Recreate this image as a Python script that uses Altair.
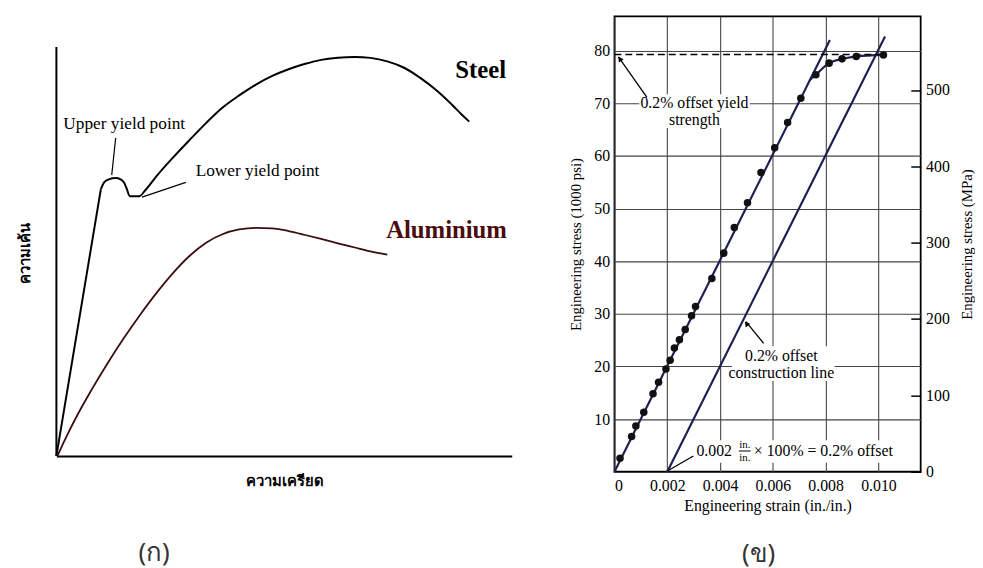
import altair as alt
import pandas as pd

# ---------------- Panel (ก): schematic curves, arbitrary units ----------------
steel_elastic_strain = [0, 9.76]
steel_elastic_stress = [0, 65.22]
steel_strain = [9.76, 10.48, 11.50, 13.02, 14.10, 14.82, 15.40, 16.12, 18.22,
                19.52, 22.13, 25.60, 29.28, 32.97, 36.44, 40.13, 43.82, 47.29, 50.98,
                54.66, 58.13, 61.82, 65.51, 68.98, 72.67, 76.36, 79.83, 83.51, 86.77,
                88.94, 90.67]
steel_stress = [65.22, 66.91, 67.63, 67.95, 67.63, 66.91, 65.46, 63.53, 63.53,
                64.98, 68.60, 72.95, 77.29, 81.52, 85.14, 88.16, 90.82, 92.87, 94.57,
                95.89, 96.86, 97.39, 97.58, 97.34, 96.50, 94.93, 92.51, 89.37, 86.01,
                83.57, 81.76]
alu_strain = [0.22, 1.52, 2.82, 4.12, 7.59, 11.28, 14.75, 18.44, 22.13, 25.60,
              29.28, 32.97, 36.44, 40.13, 43.82, 47.29, 50.98, 54.66, 58.13, 61.82,
              65.51, 68.98, 72.67]
alu_stress = [0, 3.12, 6.11, 8.97, 15.91, 22.74, 28.71, 34.61, 40.07, 44.72,
              48.95, 52.20, 54.21, 55.39, 55.76, 55.63, 55.00, 54.03, 53.07, 52.00,
              50.97, 50.00, 49.20]
left_labels = ["Upper yield point", "Lower yield point"]
left_label_x = [1.52, 30.59]
left_label_y = [81.23, 69.73]
left_lead_x = [13.02, 28.42]
left_lead_y = [77.78, 66.91]
left_lead_x2 = [12.15, 18.81]
left_lead_y2 = [68.67, 63.29]
material_names = ["Steel", "Aluminium"]
material_x = [93.17, 85.68]
material_y = [94.28, 55.31]
material_colors = ["#000000", "#4a0d0d"]

# ---------------- Panel (ข): measured tensile test -----------------
strain_pts = [0.00021, 0.00065, 0.00081, 0.00111, 0.00146, 0.00167, 0.00195, 0.00211,
              0.00227, 0.00246, 0.00268, 0.00292, 0.00307, 0.00369, 0.00414, 0.00454,
              0.00504, 0.00555, 0.00607, 0.00656, 0.00706, 0.00763, 0.00813, 0.00862,
              0.00916, 0.01019]
stress_pts = [2.56, 6.69, 8.69, 11.32, 14.82, 17.01, 19.51, 21.20, 23.52, 25.08,
              27.02, 29.65, 31.40, 36.72, 41.53, 46.41, 51.10, 56.85, 61.55, 66.36,
              70.93, 75.43, 77.62, 78.43, 78.87, 79.18]
elastic_strain = [0.0, 0.00816]
elastic_stress = [0.0, 82.0]
offset_strain = [0.002, 0.01025]
offset_stress = [0.0, 82.7]
plastic_strain = [0.0074, 0.00763, 0.00813, 0.00862, 0.00916, 0.01019]
plastic_stress = [74.4, 75.43, 77.62, 78.43, 78.87, 79.18]
yield_strain = [0.0, 0.01018]
yield_stress = 79.28
x_ticks = [0, 0.002, 0.004, 0.006, 0.008, 0.010]
ksi_ticks = [10, 20, 30, 40, 50, 60, 70, 80]
mpa_ticks = [0, 100, 200, 300, 400, 500]
box_x = [0.00094, 0.00445, 0.00307]
box_x2 = [0.00513, 0.00834, 0.01096]
box_y = [65.3, 17.26, 1.69]
box_y2 = [71.7, 23.83, 6.0]
ann_center_text = ["0.2% offset yield", "strength", "0.2% offset", "construction line"]
ann_center_x = [0.00303, 0.00303, 0.00632, 0.00632]
ann_center_y = [70.0, 66.8, 21.95, 18.76]
lead_x = [0.00015, 0.00498, 0.00299]
lead_y = [78.8, 28.52, 3.0]
lead_x2 = [0.00123, 0.00565, 0.00202]
lead_y2 = [71.1, 24.39, 0.19]
arrow_x = [0.00022, 0.00502]
arrow_y = [78.3, 28.0]
arrow_angle = [325, 321]

SERIF = "Liberation Serif"
THAI = "Noto Sans"
GRID = "#444444"
LINE = "#1d2050"

# ---------------- left panel ----------------
lx_scale = alt.Scale(domain=[0, 100], nice=False, zero=False)
ly_scale = alt.Scale(domain=[0, 107.49], nice=False, zero=False)
lx_axis = alt.Axis(domain=True, domainColor="black", domainWidth=2, ticks=False,
                   labels=False, grid=False, title="ความเครียด", titleFont=THAI,
                   titleFontSize=15, titleFontWeight="bold", titleColor="black",
                   titlePadding=18)
ly_axis = alt.Axis(domain=False, ticks=False, labels=False, grid=False,
                   title="ความเค้น", titleFont=THAI, titleFontSize=15,
                   titleFontWeight="bold", titleColor="black", titlePadding=24,
                   titleY=240)


def LX(f):
    return alt.X(f, type="quantitative", scale=lx_scale, axis=lx_axis)


def LY(f):
    return alt.Y(f, type="quantitative", scale=ly_scale, axis=ly_axis)


steel_el_df = pd.DataFrame({"e": steel_elastic_strain, "s": steel_elastic_stress})
steel_df = pd.DataFrame({"e": steel_strain, "s": steel_stress, "i": range(len(steel_strain))})
alu_df = pd.DataFrame({"e": alu_strain, "s": alu_stress, "i": range(len(alu_strain))})
yaxis_df = pd.DataFrame({"e": [0.0], "s": [0.0], "s2": [100.0]})
lead_l_df = pd.DataFrame({"x": left_lead_x, "y": left_lead_y, "x2": left_lead_x2, "y2": left_lead_y2})
lab_l_df = pd.DataFrame({"t": left_labels, "x": left_label_x, "y": left_label_y})
mat_df = pd.DataFrame({"t": material_names, "x": material_x, "y": material_y, "c": material_colors})

steel_el = alt.Chart(steel_el_df).mark_line(color="black", strokeWidth=2).encode(
    x=LX("e"), y=LY("s"))
steel = alt.Chart(steel_df).mark_line(color="black", strokeWidth=2, interpolate="monotone").encode(
    x=LX("e"), y=LY("s"), order="i:Q")
alu = alt.Chart(alu_df).mark_line(color="#3a0c0c", strokeWidth=1.8, interpolate="monotone").encode(
    x=LX("e"), y=LY("s"), order="i:Q")
yline = alt.Chart(yaxis_df).mark_rule(color="black", strokeWidth=2).encode(
    x=LX("e"), y=LY("s"), y2="s2")
lleads = alt.Chart(lead_l_df).mark_rule(color="black", strokeWidth=1.2).encode(
    x=LX("x"), y=LY("y"), x2="x2", y2="y2")
llabels = alt.Chart(lab_l_df).mark_text(align="left", baseline="middle", font=SERIF,
                                        fontSize=17.5, color="black").encode(
    x=LX("x"), y=LY("y"), text="t")
mats = alt.Chart(mat_df).mark_text(align="center", baseline="middle", font=SERIF,
                                   fontSize=25, fontWeight="bold").encode(
    x=LX("x"), y=LY("y"), text="t", color=alt.Color("c:N", scale=None))

left = alt.layer(yline, alu, steel_el, steel, lleads, llabels, mats).properties(
    width=461, height=445,
    title=alt.TitleParams("(ก)", orient="bottom", anchor="start", dx=122, offset=52,
                          font=THAI, fontSize=26, fontWeight="normal", color="#333333"))

# ---------------- right panel ----------------
rx_scale = alt.Scale(domain=[0, 0.0116], nice=False, zero=False)
ry_scale = alt.Scale(domain=[0, 86.5], nice=False, zero=False)
rx_axis = alt.Axis(values=x_ticks, labelExpr="datum.value == 0 ? '0' : format(datum.value, '.3f')",
                   grid=True, gridColor=GRID, gridWidth=1.1, ticks=False, domain=False,
                   labelFont=SERIF, labelFontSize=16, labelColor="black", labelPadding=6,
                   title="Engineering strain (in./in.)", titleFont=SERIF, titleFontSize=16,
                   titleFontWeight="normal", titleColor="black", titlePadding=4)
ry_axis = alt.Axis(values=ksi_ticks, grid=True, gridColor=GRID, gridWidth=1.1, ticks=False,
                   domain=False, labelFont=SERIF, labelFontSize=16, labelColor="black",
                   labelPadding=5, title="Engineering stress (1000 psi)", titleFont=SERIF,
                   titleFontSize=15, titleFontWeight="normal", titleColor="black",
                   titlePadding=10)


def RX(f):
    return alt.X(f, type="quantitative", scale=rx_scale, axis=rx_axis)


def RY(f):
    return alt.Y(f, type="quantitative", scale=ry_scale, axis=ry_axis)


box_df = pd.DataFrame({"x": box_x, "x2": box_x2, "y": box_y, "y2": box_y2})
pts_df = pd.DataFrame({"e": strain_pts, "s": stress_pts})
el_df = pd.DataFrame({"e": elastic_strain, "s": elastic_stress})
off_df = pd.DataFrame({"e": offset_strain, "s": offset_stress})
pl_df = pd.DataFrame({"e": plastic_strain, "s": plastic_stress})
ys_df = pd.DataFrame({"e": yield_strain, "s": [yield_stress] * 2})
lead_df = pd.DataFrame({"x": lead_x, "y": lead_y, "x2": lead_x2, "y2": lead_y2})
arrow_df = pd.DataFrame({"x": arrow_x, "y": arrow_y, "a": arrow_angle})
annc_df = pd.DataFrame({"t": ann_center_text, "x": ann_center_x, "y": ann_center_y})
ann_r_df = pd.DataFrame({"t": ["0.002"], "x": [0.00445], "y": [3.94]})
ann_l_df = pd.DataFrame({"t": ["× 100% = 0.2% offset"], "x": [0.00528], "y": [3.94]})
frac_df = pd.DataFrame({"t": ["in.", "in."], "x": [0.00494, 0.00494], "y": [5.07, 2.63]})
bar_df = pd.DataFrame({"x": [0.00471], "x2": [0.00516], "y": [3.94]})

boxes = alt.Chart(box_df).mark_rect(fill="white").encode(x=RX("x"), x2="x2", y=RY("y"), y2="y2")
elastic = alt.Chart(el_df).mark_line(color=LINE, strokeWidth=2.2).encode(x=RX("e"), y=RY("s"))
offset = alt.Chart(off_df).mark_line(color=LINE, strokeWidth=2.2).encode(x=RX("e"), y=RY("s"))
plastic = alt.Chart(pl_df).mark_line(color=LINE, strokeWidth=2.2, interpolate="monotone").encode(
    x=RX("e"), y=RY("s"))
yieldline = alt.Chart(ys_df).mark_line(color="black", strokeWidth=1.5, strokeDash=[7, 4]).encode(
    x=RX("e"), y=RY("s"))
dots = alt.Chart(pts_df).mark_circle(color="#111111", size=58, opacity=1).encode(
    x=RX("e"), y=RY("s"))
leads = alt.Chart(lead_df).mark_rule(color="black", strokeWidth=1.3).encode(
    x=RX("x"), y=RY("y"), x2="x2", y2="y2")
arrows = alt.Chart(arrow_df).mark_point(shape="triangle", filled=True, size=35, color="black",
                                        opacity=1).encode(
    x=RX("x"), y=RY("y"), angle=alt.Angle("a:Q", scale=None))
annc = alt.Chart(annc_df).mark_text(align="center", baseline="middle", font=SERIF,
                                    fontSize=16, color="black").encode(
    x=RX("x"), y=RY("y"), text="t")
annr = alt.Chart(ann_r_df).mark_text(align="right", baseline="middle", font=SERIF,
                                     fontSize=16, color="black").encode(
    x=RX("x"), y=RY("y"), text="t")
annl = alt.Chart(ann_l_df).mark_text(align="left", baseline="middle", font=SERIF,
                                     fontSize=16, color="black").encode(
    x=RX("x"), y=RY("y"), text="t")
frac = alt.Chart(frac_df).mark_text(align="center", baseline="middle", font=SERIF,
                                    fontSize=11, color="black").encode(
    x=RX("x"), y=RY("y"), text="t")
fbar = alt.Chart(bar_df).mark_rule(color="black", strokeWidth=1).encode(
    x=RX("x"), x2="x2", y=RY("y"))

inner = alt.layer(boxes, elastic, offset, plastic, yieldline, dots, leads, arrows,
                  annc, annr, annl, frac, fbar)

mpa_df = pd.DataFrame({"mpa": [0.0]})
mpa_layer = alt.Chart(mpa_df).mark_point(opacity=0).encode(
    y=alt.Y("mpa:Q", scale=alt.Scale(domain=[0, 596.4], nice=False),
            axis=alt.Axis(orient="right", values=mpa_ticks, ticks=True, tickSize=10,
                          tickColor="black", tickWidth=1.5, offset=-10, domain=False,
                          grid=False, labelFont=SERIF, labelFontSize=16, labelColor="black",
                          labelPadding=5, title="Engineering stress (MPa)", titleFont=SERIF,
                          titleFontSize=15, titleFontWeight="normal", titleColor="black",
                          titleAngle=270, titleBaseline="top", titlePadding=10)))

right = alt.layer(inner, mpa_layer).resolve_scale(y="independent").properties(
    width=310, height=461,
    view=alt.ViewBackground(stroke="black", strokeWidth=1.8),
    title=alt.TitleParams("(ข)", orient="bottom", anchor="start", dx=175, offset=28,
                          font=THAI, fontSize=26, fontWeight="normal", color="#333333"))

chart = alt.hconcat(left, right, spacing=57).properties(
    padding={"left": 10, "top": 4, "right": 0, "bottom": 0},
    background="white",
).configure_view(stroke=None)

chart.save("out.html", embed_options={"renderer": "svg", "actions": False})
